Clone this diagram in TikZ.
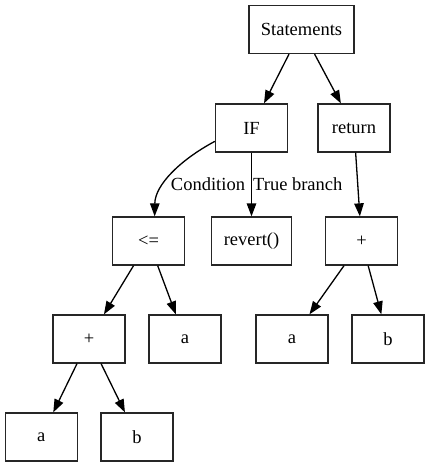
\documentclass[tikz,border=0pt]{standalone}
\usepackage{fontspec}
\setmainfont{Liberation Serif}
\usetikzlibrary{arrows.meta}
\begin{document}
\begin{tikzpicture}[x=1pt,y=-1pt,
  box/.style={draw=black!85,line width=1.3pt,minimum width=72pt,minimum height=48pt,inner xsep=12pt,font=\fontsize{18.5}{20}\selectfont},
  edge/.style={line width=1.3pt,-{Triangle[length=13pt,width=9.5pt]}},
  lbl/.style={font=\fontsize{18.5}{20}\selectfont,inner sep=0pt}]
\useasboundingbox (0,0) rectangle (429,467);
\node[box] (stmt) at (301.5,29.5) {Statements};
\node[box] (if) at (251.5,128) {IF};
\node[box] (ret) at (354,128) {return};
\node[box] (le) at (148.5,241) {<=};
\node[box] (rev) at (251.5,241) {revert()};
\node[box] (plr) at (361.5,241) {+};
\node[box] (pll) at (89,339) {+};
\node[box] (a1) at (185,339) {a};
\node[box] (a2) at (292,339) {a};
\node[box] (b2) at (388,339) {b};
\node[box] (a3) at (41.3,437) {a};
\node[box] (b3) at (137,437) {b};
\draw[edge] (stmt) -- (if);
\draw[edge] (stmt) -- (ret);
\draw[edge] (if.200) .. controls (180,160) and (155,185) .. (le.76);
\draw[edge] (if) -- (rev);
\draw[edge] (ret) -- (plr);
\draw[edge] (le) -- (pll);
\draw[edge] (le) -- (a1);
\draw[edge] (plr) -- (a2);
\draw[edge] (plr) -- (b2);
\draw[edge] (pll) -- (a3);
\draw[edge] (pll) -- (b3);
\node[lbl] (lc) at (208,184) {Condition};
\node[lbl,anchor=west] (lt) at (253,184) {True branch};
\end{tikzpicture}
\end{document}
